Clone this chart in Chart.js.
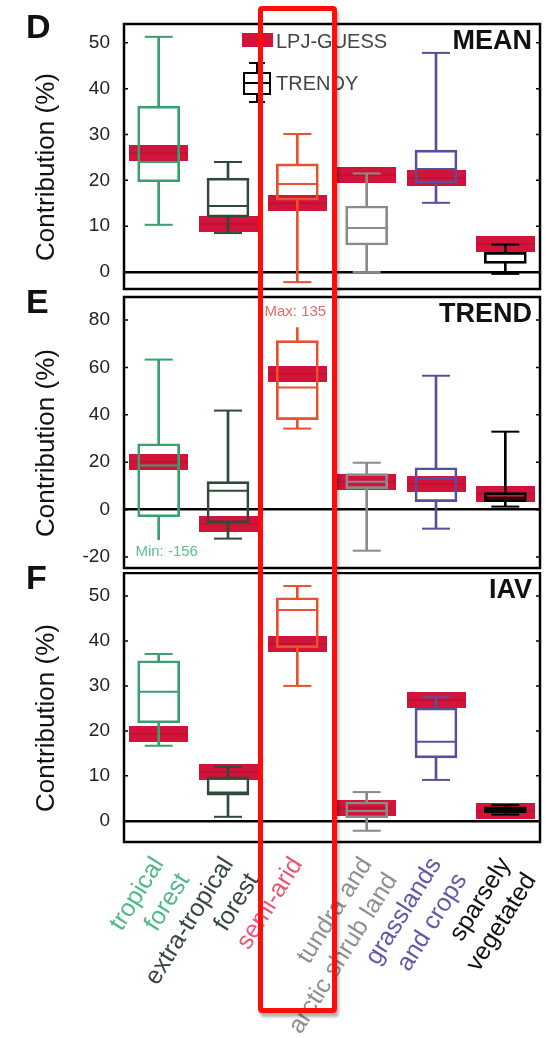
<!DOCTYPE html>
<html>
<head>
<meta charset="utf-8">
<script src="https://cdn.jsdelivr.net/npm/chart.js@4.4.1/dist/chart.umd.min.js"></script>
<style>
  body { margin: 0; background: #fff; width: 546px; height: 1038px; position: relative; overflow: hidden;
         font-family: "Liberation Sans", Arial, sans-serif; }
  canvas { position: absolute; left: 0; }
  .txt { position: absolute; white-space: nowrap; line-height: 1; }
  .letter { font-size: 34px; font-weight: bold; color: #111; left: 26px; }
  .corner { font-size: 27px; font-weight: bold; color: #111; right: 14px; }
  .ytitle { font-size: 26px; color: #111; transform: translate(-50%, -50%) rotate(-90deg); left: 45px; }
  .leg { font-size: 20px; color: #444; left: 276px; }
  .blk { position: absolute; }
  #hilite { position: absolute; left: 258px; top: 6px; width: 79px; height: 1007px; box-sizing: border-box;
            border: 5px solid #ff0d0d; border-radius: 4px; box-shadow: 2px 4px 3px rgba(0,0,0,0.3); }
</style>
</head>
<body>
<canvas id="chartD" width="546" height="292" style="top:0"></canvas>
<canvas id="chartE" width="546" height="280" style="top:292px"></canvas>
<canvas id="chartF" width="546" height="466" style="top:572px"></canvas>

<div class="txt letter" style="top:9px">D</div>
<div class="txt letter" style="top:284px">E</div>
<div class="txt letter" style="top:560px">F</div>

<div class="txt corner" style="top:27px">MEAN</div>
<div class="txt corner" style="top:300px">TREND</div>
<div class="txt corner" style="top:576px">IAV</div>

<div class="txt ytitle" style="top:167px">Contribution (%)</div>
<div class="txt ytitle" style="top:443px">Contribution (%)</div>
<div class="txt ytitle" style="top:718px">Contribution (%)</div>

<!-- legend -->
<div class="blk" style="left:242px;top:33px;width:31px;height:14px;background:#d2143a"></div>
<div class="txt leg" style="top:31px">LPJ-GUESS</div>
<div class="blk" style="left:249px;top:62px;width:16px;height:2px;background:#000"></div>
<div class="blk" style="left:256px;top:62px;width:2px;height:41px;background:#000"></div>
<div class="blk" style="left:249px;top:101px;width:16px;height:2px;background:#000"></div>
<div class="blk" style="left:243px;top:72px;width:28px;height:23px;border:2px solid #000;background:#fff;box-sizing:border-box"></div>
<div class="blk" style="left:243px;top:82px;width:28px;height:2px;background:#000"></div>
<div class="txt leg" style="top:73px">TRENDY</div>

<div id="hilite"></div>

<script>
const categories = [
  ["tropical", "forest"],
  ["extra-tropical", "forest"],
  ["semi-arid"],
  ["tundra and", "arctic shrub land"],
  ["grasslands", "and crops"],
  ["sparsely", "vegetated"],
];
const boxColors = ["#3a9f6e", "#2f4a3a", "#e8502e", "#8a8a8a", "#55509c", "#000000"];
const labelColors = ["#4fb987", "#34493c", "#e8566f", "#8f8f8f", "#5f5aa8", "#111111"];

// D: MEAN
const meanMin = [10.3, 8.5, -2.2, 0.0, 15.1, -0.4];
const meanQ1 = [19.7, 12.0, 15.7, 5.9, 19.4, 1.9];
const meanMed = [24.0, 14.4, 19.2, 9.6, 22.5, 2.2];
const meanQ3 = [36.2, 20.5, 23.6, 14.4, 26.6, 4.3];
const meanMax = [51.3, 24.0, 30.1, 21.5, 47.8, 6.0];
const meanLpj = [26.0, 10.5, 15.0, 21.2, 20.5, 6.1];

// E: TREND
const trendMin = [-12.7, -12.2, 34.2, -17.3, -8.0, 1.3];
const trendQ1 = [-3.0, -5.5, 38.0, 8.9, 3.4, 3.4];
const trendMed = [18.6, 8.0, 51.5, 11.8, 13.1, 5.0];
const trendQ3 = [27.8, 11.8, 71.3, 15.2, 17.7, 7.2];
const trendMax = [63.3, 41.8, 76.8, 19.8, 56.5, 32.9];
const trendLpj = [20.3, -5.9, 57.4, 11.8, 11.0, 6.8];
// whiskers that run off the axis: the end value is printed instead of a cap
const trendOffMin = [-156, null, null, null, null, null];
const trendOffMax = [null, null, 135, null, null, null];

// F: IAV
const iavMin = [16.7, 0.9, 30.0, -2.2, 9.1, 1.4];
const iavQ1 = [21.8, 5.7, 38.5, 0.7, 14.0, 1.8];
const iavMed = [28.7, 6.3, 46.9, 2.2, 17.6, 2.4];
const iavQ3 = [35.6, 9.8, 49.6, 4.2, 25.1, 3.1];
const iavMax = [37.1, 12.0, 52.2, 6.4, 27.5, 3.5];
const iavLpj = [19.3, 10.9, 39.3, 2.9, 26.9, 2.2];

const meanTicks = [0, 10, 20, 30, 40, 50];
const trendTicks = [-20, 0, 20, 40, 60, 80];
const iavTicks = [0, 10, 20, 30, 40, 50];

// red LPJ-GUESS band used as point style
const lpjMark = document.createElement("canvas");
lpjMark.width = 59; lpjMark.height = 16;
(function () {
  const c = lpjMark.getContext("2d");
  c.fillStyle = "#d2143a";
  c.fillRect(0, 0, 59, 16);
  c.fillStyle = "rgba(150,0,30,0.25)";
  c.fillRect(0, 7, 59, 2);
})();

const framePlugin = {
  id: "frame",
  afterDraw(chart) {
    const { ctx, chartArea: a, scales } = chart;
    ctx.save();
    ctx.strokeStyle = "#000";
    ctx.lineWidth = 2.5;
    ctx.strokeRect(a.left, a.top, a.right - a.left, a.bottom - a.top);
    ctx.lineWidth = 1.5;
    scales.y.ticks.forEach(t => {
      const y = scales.y.getPixelForValue(t.value);
      ctx.beginPath();
      ctx.moveTo(a.left, y); ctx.lineTo(a.left + 4, y);
      ctx.moveTo(a.right, y); ctx.lineTo(a.right - 4, y);
      ctx.stroke();
    });
    ctx.restore();
  }
};

function boxSets(min, q1, med, q3, max, lpj, offMin, offMax) {
  const capMin = min.map((v, i) => (offMin && offMin[i] !== null ? null : v));
  const capMax = max.map((v, i) => (offMax && offMax[i] !== null ? null : v));
  const pt = { type: "line", showLine: false, pointStyle: "line", pointBorderColor: boxColors, pointBorderWidth: 2 };
  return [
    Object.assign({ data: med, pointRadius: 20, order: 0 }, pt),
    Object.assign({ data: capMax, pointRadius: 14, order: 0 }, pt),
    Object.assign({ data: capMin, pointRadius: 14, order: 0 }, pt),
    { type: "bar", data: q1.map((v, i) => [v, q3[i]]), backgroundColor: "rgba(0,0,0,0)", borderColor: boxColors,
      borderWidth: 2, borderSkipped: false, barThickness: 42, grouped: false, order: 1 },
    { type: "bar", data: q3.map((v, i) => [v, max[i]]), backgroundColor: boxColors, barThickness: 2, grouped: false, order: 2 },
    { type: "bar", data: min.map((v, i) => [v, q1[i]]), backgroundColor: boxColors, barThickness: 2, grouped: false, order: 2 },
    { type: "line", data: lpj, showLine: false, pointStyle: lpjMark, pointRadius: 3, order: 5 },
  ];
}

function makePanel(id, sets, yMin, yMax, tickVals, pad, showX, extra) {
  return new Chart(document.getElementById(id), {
    type: "bar",
    data: { labels: categories, datasets: sets },
    options: {
      responsive: false,
      animation: false,
      events: [],
      layout: { padding: pad, autoPadding: false },
      plugins: { legend: { display: false }, tooltip: { enabled: false } },
      scales: {
        x: {
          display: showX,
          offset: true,
          grid: { display: false },
          border: { display: false },
          ticks: {
            autoSkip: false,
            maxRotation: 58,
            minRotation: 58,
            padding: 2,
            color: c => labelColors[c.index],
            font: { family: "Liberation Sans", size: 25 },
          },
          afterFit: s => {
            s.height = showX ? 196 : 0;
            s.paddingLeft = 0; s.paddingRight = 0;
          },
        },
        y: {
          min: yMin,
          max: yMax,
          afterFit: s => {
            s.width = 124;
            s.paddingTop = 0; s.paddingBottom = 0;
          },
          afterBuildTicks: s => { s.ticks = tickVals.map(v => ({ value: v })); },
          border: { display: false },
          grid: {
            drawTicks: false,
            color: c => (c.tick && c.tick.value === 0 ? "#000" : "rgba(0,0,0,0)"),
            lineWidth: 2.5,
          },
          ticks: { padding: 14, color: "#222", font: { family: "Liberation Sans", size: 19 } },
        },
      },
    },
    plugins: extra ? [framePlugin, extra] : [framePlugin],
  });
}

makePanel("chartD", boxSets(meanMin, meanQ1, meanMed, meanQ3, meanMax, meanLpj),
  -3.7, 54.1, meanTicks, { top: 24, bottom: 3, right: 6, left: 0 }, false);

const offscaleLabels = {
  id: "offscale",
  afterDatasetsDraw(chart) {
    const { ctx, scales } = chart;
    ctx.save();
    ctx.font = "15px 'Liberation Sans'";
    ctx.textAlign = "center";
    ctx.textBaseline = "middle";
    trendOffMin.forEach((v, i) => {
      if (v === null) return;
      ctx.fillStyle = "#5cc08c";
      ctx.fillText("Min: " + v, scales.x.getPixelForValue(i) + 8, scales.y.getPixelForValue(trendMin[i]) + 12);
    });
    trendOffMax.forEach((v, i) => {
      if (v === null) return;
      ctx.fillStyle = "#e86a6a";
      ctx.fillText("Max: " + v, scales.x.getPixelForValue(i) - 2, scales.y.getPixelForValue(trendMax[i]) - 16);
    });
    ctx.restore();
  }
};

makePanel("chartE", boxSets(trendMin, trendQ1, trendMed, trendQ3, trendMax, trendLpj, trendOffMin, trendOffMax),
  -24.6, 89.7, trendTicks, { top: 5, bottom: 4, right: 6, left: 0 }, false, offscaleLabels);

makePanel("chartF", boxSets(iavMin, iavQ1, iavMed, iavQ3, iavMax, iavLpj),
  -4.7, 55.1, iavTicks, { top: 1, bottom: 0, right: 6, left: 0 }, true);
</script>
</body>
</html>
